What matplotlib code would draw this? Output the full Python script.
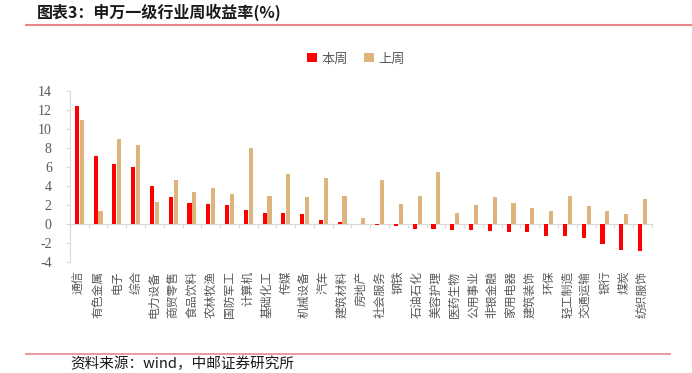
import matplotlib
matplotlib.use("Agg")
import matplotlib.pyplot as plt
from matplotlib.lines import Line2D
from matplotlib.patches import Patch
import numpy as np

plt.rcParams['font.family'] = ['Noto Sans CJK SC', 'DejaVu Sans']

categories = ["通信", "有色金属", "电子", "综合", "电力设备", "商贸零售", "食品饮料", "农林牧渔",
              "国防军工", "计算机", "基础化工", "传媒", "机械设备", "汽车", "建筑材料", "房地产",
              "社会服务", "钢铁", "石油石化", "美容护理", "医药生物", "公用事业", "非银金融",
              "家用电器", "建筑装饰", "环保", "轻工制造", "交通运输", "银行", "煤炭", "纺织服饰"]
this_week = [12.45, 7.2, 6.35, 6.0, 4.05, 2.8, 2.2, 2.1, 2.05, 1.45, 1.2, 1.12, 1.08, 0.42, 0.25,
             0.05, -0.14, -0.2, -0.49, -0.53, -0.58, -0.6, -0.7, -0.8, -0.8, -1.23, -1.23,
             -1.47, -2.07, -2.7, -2.8]
last_week = [10.9, 1.4, 9.0, 8.3, 2.35, 4.6, 3.37, 3.8, 3.15, 8.0, 2.95, 5.26, 2.84, 4.8, 3.0,
             0.63, 4.63, 2.07, 3.0, 5.44, 1.12, 2.0, 2.8, 2.25, 1.7, 1.4, 2.9, 1.93, 1.33,
             1.02, 2.63]
yticks = [-4, -2, 0, 2, 4, 6, 8, 10, 12, 14]
series_names = ["本周", "上周"]
title = "图表3：申万一级行业周收益率(%)"
source = "资料来源：wind，中邮证券研究所"

RED = "#FF0000"
TAN = "#DDB47E"
GRAY = "#D9D9D9"
TXT = "#595959"

fig = plt.figure(figsize=(6.92, 3.73), dpi=100)
ax = fig.add_axes([0.101, 0.2976, 0.841, 0.4584])

x = np.arange(len(categories))
w = 0.22
ax.bar(x - 0.13, this_week, width=w, color=RED, zorder=3)
ax.bar(x + 0.13, last_week, width=w, color=TAN, zorder=3)

ax.set_xlim(-0.5, len(categories) - 0.5)
ax.set_ylim(yticks[0], yticks[-1])
ax.set_yticks(yticks)
ax.set_yticklabels([str(v) for v in yticks], family=['Liberation Serif'], fontsize=10, color=TXT)
ax.tick_params(axis='y', length=3, width=0.8, color=GRAY, pad=10)

for s in ['top', 'right']:
    ax.spines[s].set_visible(False)
ax.spines['left'].set_color(GRAY)
ax.spines['left'].set_linewidth(0.8)
ax.spines['bottom'].set_position(('data', 0))
ax.spines['bottom'].set_color(GRAY)
ax.spines['bottom'].set_linewidth(0.8)
ax.set_xticks(np.arange(len(categories) + 1) - 0.5)
ax.set_xticklabels([])
ax.tick_params(axis='x', length=3, width=0.8, color=GRAY, direction='out')

trans = ax.get_xaxis_transform()
for xi, c in zip(x, categories):
    ax.text(xi, -0.05, c, transform=trans, rotation=90, ha='center', va='top',
            fontsize=8.5, color=TXT)

handles = [Patch(facecolor=RED, edgecolor='none'), Patch(facecolor=TAN, edgecolor='none')]
fig.legend(handles, series_names, loc='center', bbox_to_anchor=(0.515, 0.842), ncol=2,
           frameon=False, fontsize=9.5, handlelength=0.7, handleheight=0.7,
           handletextpad=0.4, columnspacing=1.2, labelcolor=TXT)

fig.text(0.053, 0.968, title, fontsize=11.5, fontweight='bold', ha='left', va='center', color='#1a1a1a')
fig.add_artist(Line2D([0.038, 1.0], [0.933, 0.933], transform=fig.transFigure,
                      color='#E8888A', linewidth=1.5))
fig.add_artist(Line2D([0.038, 0.968], [0.052, 0.052], transform=fig.transFigure,
                      color='#E8888A', linewidth=1.2))
fig.text(0.101, 0.004, source, fontsize=10.5, ha='left', va='bottom', color='#1a1a1a')

fig.savefig("out.png", dpi=100)
